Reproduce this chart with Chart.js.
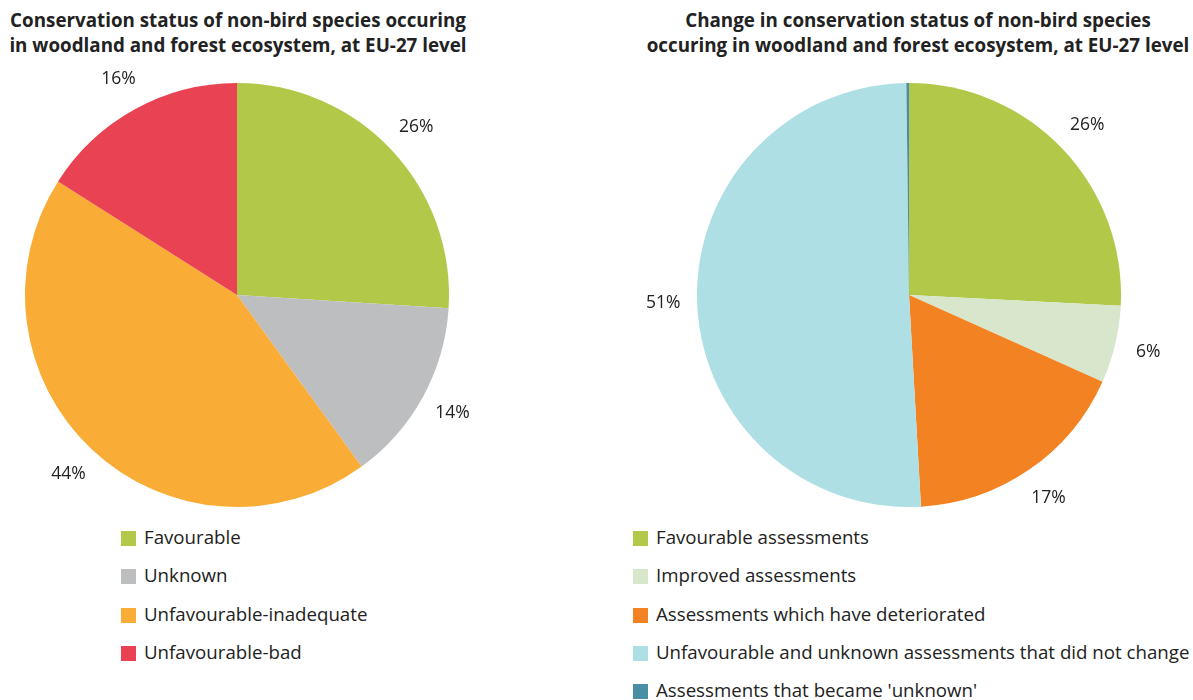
<!DOCTYPE html>
<html>
<head>
<meta charset="utf-8">
<script src="https://cdn.jsdelivr.net/npm/chart.js@4"></script>
<style>
    body { margin: 0; background: #fff; font-family: "Open Sans", sans-serif; color: #222; }
    .title { position: absolute; top: 8px; font-weight: bold; font-size: 18.8px; line-height: 25px; text-align: center; white-space: nowrap; }
    .chart-box { position: absolute; top: 70px; height: 450px; }
    .legend { position: absolute; font-size: 18.7px; }
    .legend div { position: relative; height: 38.3px; line-height: 22px; white-space: nowrap; }
    .legend span { display: inline-block; width: 15px; height: 15px; vertical-align: -2px; margin-right: 8px; }
</style>
</head>
<body>
<div class="title" style="left:0; width:476px;">Conservation status of non-bird species occuring<br>in woodland and forest ecosystem, at EU-27 level</div>
<div class="title" style="left:640px; width:556px;">Change in conservation status of non-bird species<br>occuring in woodland and forest ecosystem, at EU-27 level</div>
<div class="chart-box" style="left:0; width:600px;"><canvas id="status-chart"></canvas></div>
<div class="chart-box" style="left:600px; width:593px;"><canvas id="change-chart"></canvas></div>
<div class="legend" id="status-legend" style="left:121px; top:526px;"></div>
<div class="legend" id="change-legend" style="left:633px; top:526px;"></div>
<script>
const status_labels = ["Favourable", "Unknown", "Unfavourable-inadequate", "Unfavourable-bad"];
const status_values = [26, 14, 44, 16];
const status_colors = ["#b2c848", "#bdbec0", "#f9ad36", "#e84253"];

const change_labels = ["Favourable assessments", "Improved assessments", "Assessments which have deteriorated", "Unfavourable and unknown assessments that did not change", "Assessments that became 'unknown'"];
const change_values = [25.8, 5.9, 17.4, 50.7, 0.2];
const change_colors = ["#b2c848", "#d8e6cc", "#f38222", "#aedfe5", "#4a8ea5"];

// percent labels outside each slice, skipped for slivers
const outside_labels = {
    id: 'outside_labels',
    afterDatasetsDraw(chart) {
        const ctx = chart.ctx;
        const meta = chart.getDatasetMeta(0);
        const values = chart.data.datasets[0].data;
        ctx.save();
        ctx.font = '17.5px "Open Sans"';
        ctx.fillStyle = '#222';
        ctx.textAlign = 'center';
        ctx.textBaseline = 'middle';
        meta.data.forEach((arc, i) => {
            if (values[i] < 1) return;
            const mid = (arc.startAngle + arc.endAngle) / 2;
            const r = arc.outerRadius + 34;
            ctx.fillText(Math.round(values[i]) + "%", arc.x + Math.cos(mid) * r, arc.y + Math.sin(mid) * r);
        });
        ctx.restore();
    }
};

function make_pie(id, labels, values, colors, padding) {
    return new Chart(document.getElementById(id), {
        type: 'pie',
        data: {
            labels: labels,
            datasets: [{
                data: values,
                backgroundColor: colors,
                borderWidth: 0,
                hoverOffset: 0
            }]
        },
        options: {
            responsive: true,
            maintainAspectRatio: false,
            animation: false,
            layout: { padding: padding },
            plugins: {
                legend: { display: false },
                tooltip: { enabled: false }
            }
        },
        plugins: [outside_labels]
    });
}

function fill_legend(id, labels, colors) {
    const legend = document.getElementById(id);
    labels.forEach((label, i) => {
        legend.innerHTML += `<div><span style="background:${colors[i]}"></span>${label}</div>`;
    });
}

make_pie('status-chart', status_labels, status_values, status_colors, { left: 25, right: 151, top: 13, bottom: 13 });
make_pie('change-chart', change_labels, change_values, change_colors, { left: 97, right: 72, top: 13, bottom: 13 });
fill_legend('status-legend', status_labels, status_colors);
fill_legend('change-legend', change_labels, change_colors);
</script>
</body>
</html>
